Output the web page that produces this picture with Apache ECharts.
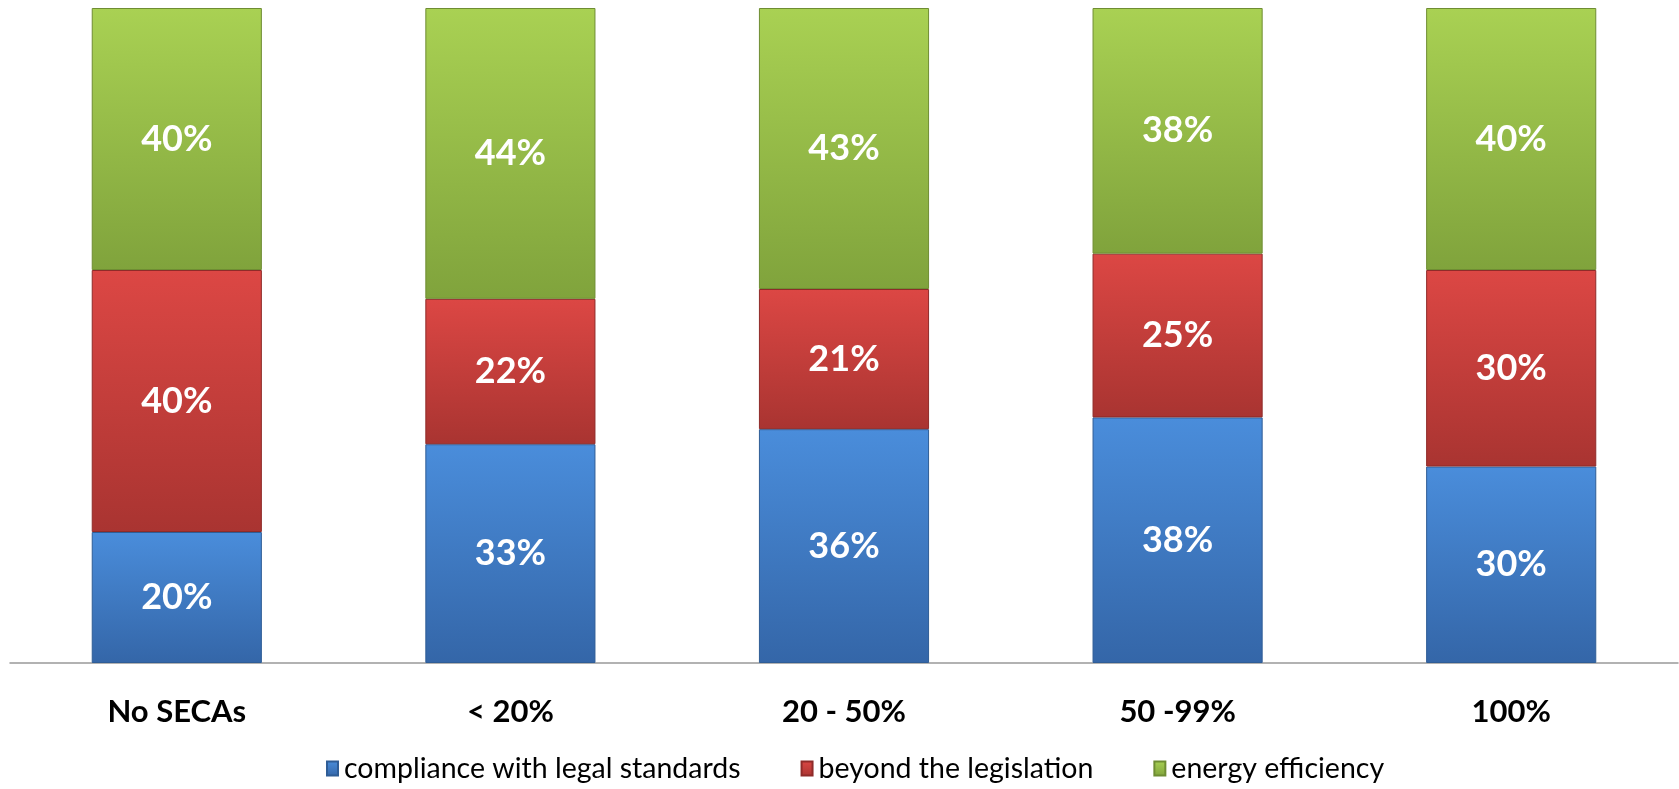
<!DOCTYPE html>
<html lang="en">
<head>
<meta charset="UTF-8">
<title>SECAs stacked bars</title>
<script src="https://cdn.jsdelivr.net/npm/echarts@6/dist/echarts.min.js"></script>
<style>
  html, body { margin: 0; padding: 0; background: #fff; }
  #main { width: 1679px; height: 789px; }
</style>
</head>
<body>
<div id="main"></div>
<script type="text/javascript">
// categories and shares (percent)
var categories = ['No SECAs', '< 20%', '20 - 50%', '50 -99%', '100%'];
var compliance = [20, 33.4, 35.7, 37.5, 30];
var beyond     = [40, 22.2, 21.4, 25, 30];
var efficiency = [40, 44.4, 42.9, 37.5, 40];
var seriesNames = ['compliance with legal standards', 'beyond the legislation', 'energy efficiency'];

var chart = echarts.init(document.getElementById('main'));

function grad(top, bottom) {
    return new echarts.graphic.LinearGradient(0, 0, 0, 1, [
        { offset: 0, color: top },
        { offset: 1, color: bottom }
    ]);
}

function makeSeries(name, data, top, bottom, border) {
    return {
        name: name,
        type: 'bar',
        stack: 'total',
        barWidth: '51%',
        data: data,
        itemStyle: {
            color: grad(top, bottom),
            borderColor: border,
            borderWidth: 1
        },
        label: {
            show: true,
            position: 'inside',
            color: '#fff',
            fontFamily: 'Lato',
            fontWeight: 'bold',
            fontSize: 36,
            formatter: function (p) { return Math.round(p.value) + '%'; }
        }
    };
}

chart.setOption({
    animation: false,
    grid: { left: 10, right: 1, top: 8, bottom: 126, containLabel: false },
    legend: {
        bottom: 1,
        left: 321,
        itemWidth: 11,
        itemHeight: 14,
        itemGap: 60,
        icon: 'rect',
        textStyle: { fontFamily: 'Lato', fontSize: 28.5, color: '#000', padding: [0, 0, 0, 1] },
        data: seriesNames
    },
    xAxis: {
        type: 'category',
        data: categories,
        axisLine: { lineStyle: { color: '#999', width: 1.5 } },
        axisTick: { show: false },
        axisLabel: {
            margin: 33,
            color: '#000',
            fontFamily: 'Lato',
            fontWeight: 'bold',
            fontSize: 31
        }
    },
    yAxis: {
        type: 'value',
        min: 0,
        max: 100,
        show: false,
        splitLine: { show: false }
    },
    series: [
        makeSeries(seriesNames[0], compliance, '#4a8ddb', '#3466a8', '#2f5d96'),
        makeSeries(seriesNames[1], beyond, '#dc4744', '#a93431', '#8f2b29'),
        makeSeries(seriesNames[2], efficiency, '#a9d153', '#80a33c', '#6f8d33')
    ]
});
</script>
</body>
</html>
